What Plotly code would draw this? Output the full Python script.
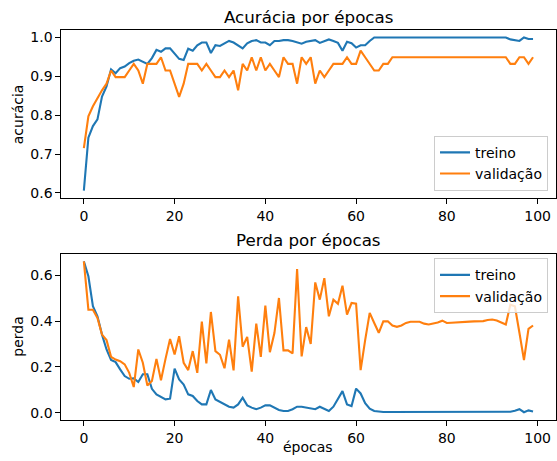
import plotly.graph_objects as go

epochs = list(range(100))

train_acc = [
    0.606, 0.742, 0.772, 0.789, 0.848, 0.874, 0.918, 0.908, 0.921, 0.925,
    0.934, 0.940, 0.943, 0.938, 0.932, 0.947, 0.968, 0.963, 0.972, 0.972,
    0.959, 0.945, 0.942, 0.971, 0.966, 0.980, 0.987, 0.987, 0.960, 0.980,
    0.978, 0.985, 0.991, 0.987, 0.980, 0.972, 0.985, 0.991, 0.993, 0.987,
    0.987, 0.980, 0.991, 0.991, 0.993, 0.993, 0.991, 0.987, 0.984, 0.989,
    0.991, 0.993, 0.986, 0.991, 0.995, 0.991, 0.986, 0.966, 0.989, 0.985,
    0.974, 0.980, 0.980, 0.991, 1.000, 1.000, 1.000, 1.000, 1.000, 1.000,
    1.000, 1.000, 1.000, 1.000, 1.000, 1.000, 1.000, 1.000, 1.000, 1.000,
    1.000, 1.000, 1.000, 1.000, 1.000, 1.000, 1.000, 1.000, 1.000, 1.000,
    1.000, 1.000, 1.000, 1.000, 0.995, 0.993, 0.991, 1.000, 0.996, 0.996,
]

val_acc = [
    0.715, 0.797, 0.823, 0.844, 0.864, 0.881, 0.915, 0.898, 0.898, 0.898,
    0.915, 0.932, 0.915, 0.881, 0.932, 0.932, 0.932, 0.949, 0.915, 0.915,
    0.881, 0.847, 0.881, 0.932, 0.932, 0.932, 0.915, 0.932, 0.915, 0.898,
    0.898, 0.915, 0.898, 0.915, 0.864, 0.932, 0.915, 0.949, 0.915, 0.949,
    0.915, 0.932, 0.915, 0.898, 0.949, 0.932, 0.932, 0.881, 0.949, 0.932,
    0.949, 0.881, 0.915, 0.898, 0.915, 0.932, 0.932, 0.932, 0.949, 0.932,
    0.932, 0.966, 0.949, 0.932, 0.915, 0.915, 0.932, 0.932, 0.949, 0.949,
    0.949, 0.949, 0.949, 0.949, 0.949, 0.949, 0.949, 0.949, 0.949, 0.949,
    0.949, 0.949, 0.949, 0.949, 0.949, 0.949, 0.949, 0.949, 0.949, 0.949,
    0.949, 0.949, 0.949, 0.949, 0.932, 0.932, 0.949, 0.949, 0.932, 0.949,
]

train_loss = [
    0.661, 0.596, 0.465, 0.421, 0.341, 0.276, 0.230, 0.221, 0.189, 0.160,
    0.148, 0.150, 0.134, 0.168, 0.168, 0.104, 0.080, 0.070, 0.058, 0.061,
    0.192, 0.145, 0.123, 0.080, 0.073, 0.051, 0.036, 0.036, 0.099, 0.058,
    0.048, 0.036, 0.026, 0.022, 0.036, 0.065, 0.032, 0.022, 0.015, 0.022,
    0.032, 0.032, 0.022, 0.012, 0.007, 0.007, 0.015, 0.026, 0.026, 0.022,
    0.017, 0.015, 0.026, 0.017, 0.007, 0.026, 0.058, 0.094, 0.036, 0.029,
    0.105, 0.084, 0.041, 0.017, 0.007, 0.004, 0.003, 0.003, 0.003, 0.003,
    0.003, 0.003, 0.003, 0.003, 0.003, 0.003, 0.003, 0.003, 0.003, 0.003,
    0.003, 0.003, 0.003, 0.003, 0.003, 0.003, 0.003, 0.003, 0.003, 0.003,
    0.003, 0.003, 0.003, 0.003, 0.004, 0.008, 0.015, 0.002, 0.010, 0.005,
]

val_loss = [
    0.661, 0.450, 0.450, 0.414, 0.341, 0.317, 0.244, 0.232, 0.225, 0.211,
    0.174, 0.112, 0.276, 0.218, 0.119, 0.138, 0.235, 0.142, 0.235, 0.322,
    0.254, 0.334, 0.218, 0.186, 0.269, 0.174, 0.398, 0.215, 0.440, 0.269,
    0.253, 0.194, 0.319, 0.185, 0.508, 0.288, 0.331, 0.179, 0.389, 0.244,
    0.468, 0.264, 0.348, 0.501, 0.272, 0.272, 0.259, 0.628, 0.246, 0.374,
    0.300, 0.569, 0.494, 0.588, 0.421, 0.494, 0.476, 0.555, 0.428, 0.479,
    0.476, 0.186, 0.317, 0.436, 0.392, 0.349, 0.399, 0.399, 0.381, 0.375,
    0.381, 0.392, 0.397, 0.397, 0.397, 0.389, 0.385, 0.390, 0.394, 0.402,
    0.392, 0.393, 0.395, 0.396, 0.397, 0.398, 0.399, 0.400, 0.400, 0.405,
    0.407, 0.403, 0.395, 0.385, 0.472, 0.465, 0.349, 0.230, 0.366, 0.381,
]

x_ticks = [0, 20, 40, 60, 80, 100]
acc_ticks = [0.6, 0.7, 0.8, 0.9, 1.0]
loss_ticks = [0.0, 0.2, 0.4, 0.6]

BLUE = "#1f77b4"
ORANGE = "#ff7f0e"
FONT = "DejaVu Sans"

fig = go.Figure()
fig.add_trace(go.Scatter(x=epochs, y=train_acc, mode="lines", name="treino",
                         line=dict(color=BLUE, width=2.1), xaxis="x", yaxis="y",
                         legend="legend"))
fig.add_trace(go.Scatter(x=epochs, y=val_acc, mode="lines", name="validação",
                         line=dict(color=ORANGE, width=2.1), xaxis="x", yaxis="y",
                         legend="legend"))
fig.add_trace(go.Scatter(x=epochs, y=train_loss, mode="lines", name="treino",
                         line=dict(color=BLUE, width=2.1), xaxis="x2", yaxis="y2",
                         legend="legend2"))
fig.add_trace(go.Scatter(x=epochs, y=val_loss, mode="lines", name="validação",
                         line=dict(color=ORANGE, width=2.1), xaxis="x2", yaxis="y2",
                         legend="legend2"))

axis_common = dict(showline=True, mirror=True, linecolor="black", linewidth=1,
                   ticks="outside", ticklen=5, tickwidth=1, tickcolor="black",
                   showgrid=False, zeroline=False,
                   tickfont=dict(family=FONT, size=14, color="black"))

xdom = [61.5 / 557, 556.5 / 557]
fig.update_layout(
    width=557, height=461,
    margin=dict(l=0, r=0, t=0, b=0),
    paper_bgcolor="white", plot_bgcolor="white",
    font=dict(family=FONT, size=14, color="black"),
    xaxis=dict(domain=xdom, range=[-4.95, 103.95], tickvals=x_ticks,
               anchor="y", **axis_common),
    yaxis=dict(domain=[1 - 199.5 / 461, 1 - 30 / 461], range=[0.5863, 1.0197],
               tickvals=acc_ticks, tickformat=".1f", anchor="x", **axis_common),
    xaxis2=dict(domain=xdom, range=[-4.95, 103.95], tickvals=x_ticks,
                anchor="y2", **axis_common),
    yaxis2=dict(domain=[1 - 422.5 / 461, 1 - 255.5 / 461], range=[-0.031, 0.694],
                tickvals=loss_ticks, tickformat=".1f", anchor="x2", **axis_common),
    legend=dict(x=549 / 557, y=1 - 192 / 461, xanchor="right", yanchor="bottom",
                bgcolor="rgba(255,255,255,0.8)", bordercolor="#cccccc", borderwidth=1,
                font=dict(family=FONT, size=14, color="black"), tracegroupgap=0,
                itemwidth=30),
    legend2=dict(x=549 / 557, y=1 - 260 / 461, xanchor="right", yanchor="top",
                 bgcolor="rgba(255,255,255,0.8)", bordercolor="#cccccc", borderwidth=1,
                 font=dict(family=FONT, size=14, color="black"), tracegroupgap=0,
                 itemwidth=30),
    annotations=[
        dict(text="Acurácia por épocas", x=309 / 557, y=1 - 17 / 461, xref="paper",
             yref="paper", showarrow=False, xanchor="center", yanchor="middle",
             font=dict(family=FONT, size=16.7, color="black")),
        dict(text="Perda por épocas", x=309 / 557, y=1 - 242 / 461, xref="paper",
             yref="paper", showarrow=False, xanchor="center", yanchor="middle",
             font=dict(family=FONT, size=16.7, color="black")),
        dict(text="acurácia", x=18 / 557, y=1 - 115 / 461, xref="paper", yref="paper",
             showarrow=False, textangle=-90, xanchor="center", yanchor="middle",
             font=dict(family=FONT, size=14, color="black")),
        dict(text="perda", x=18 / 557, y=1 - 339 / 461, xref="paper", yref="paper",
             showarrow=False, textangle=-90, xanchor="center", yanchor="middle",
             font=dict(family=FONT, size=14, color="black")),
        dict(text="épocas", x=309 / 557, y=1 - 450 / 461, xref="paper", yref="paper",
             showarrow=False, xanchor="center", yanchor="middle",
             font=dict(family=FONT, size=14, color="black")),
    ],
)

fig.write_html("out.html",
               config={"displayModeBar": False},
               post_script="document.body.style.margin='0';document.body.style.overflow='hidden';")
